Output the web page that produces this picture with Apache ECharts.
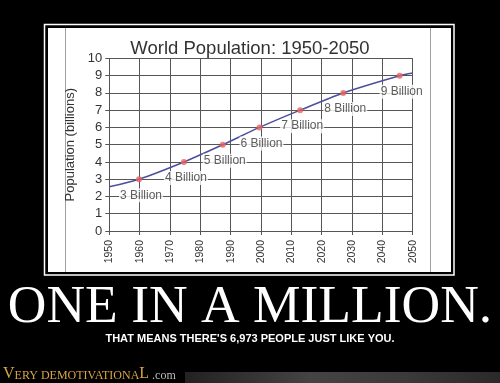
<!DOCTYPE html>
<html>
<head>
<meta charset="utf-8">
<script src="https://cdn.jsdelivr.net/npm/echarts@6/dist/echarts.min.js"></script>
<style>html,body{margin:0;padding:0;background:#000;}#c{width:500px;height:383px;}</style>
</head>
<body>
<div id="c"></div>
<script>
// Data
const lineYears = [1950, 1959.8, 1974.6, 1987.4, 1999.5, 2012.9, 2027.1, 2045.7, 2050];
const linePop   = [2.56, 3, 4, 5, 6, 7, 8, 9, 9.15];
const milestoneYears = [1959.8, 1974.6, 1987.4, 1999.5, 2012.9, 2027.1, 2045.7];
const milestones     = [3, 4, 5, 6, 7, 8, 9];
const xTicks = [1950, 1960, 1970, 1980, 1990, 2000, 2010, 2020, 2030, 2040, 2050];
const yTicks = [0, 1, 2, 3, 4, 5, 6, 7, 8, 9, 10];
const titleText = 'World Population: 1950-2050';
const yAxisName = 'Population (billions)';
const headline = 'ONE IN A MILLION.';
const subline = "THAT MEANS THERE'S 6,973 PEOPLE JUST LIKE YOU.";

const chart = echarts.init(document.getElementById('c'), null, {renderer: 'canvas'});
const font = '"Liberation Sans", Arial, sans-serif';
chart.setOption({
  backgroundColor: '#000',
  animation: false,
  graphic: [
    {type: 'rect', z: -10, shape: {x: 44.5, y: 24.5, width: 409.5, height: 250.5}, style: {fill: 'none', stroke: '#fff', lineWidth: 1.5}},
    {type: 'rect', z: -10, shape: {x: 48, y: 28, width: 403, height: 244}, style: {fill: '#fff'}},
    {type: 'line', z: -9, shape: {x1: 65.5, y1: 28, x2: 65.5, y2: 272}, style: {stroke: '#a0a0a0', lineWidth: 1}},
    {type: 'line', z: -9, shape: {x1: 430.5, y1: 28, x2: 430.5, y2: 272}, style: {stroke: '#a0a0a0', lineWidth: 1}},
    {type: 'text', left: 'center', top: 281, style: {text: headline, fill: '#fff', font: '53.5px "Liberation Serif", "Times New Roman", serif'}},
    {type: 'text', left: 'center', top: 333, style: {text: subline, fill: '#fff', font: 'bold 11px "Liberation Sans", Arial, sans-serif'}},
    {type: 'rect', z: -5, shape: {x: 185, y: 372, width: 315, height: 11},
      style: {fill: new echarts.graphic.LinearGradient(0, 0, 1, 0, [
        {offset: 0, color: '#222'}, {offset: 0.4, color: '#444'}, {offset: 0.7, color: '#3a3a3a'}, {offset: 1, color: '#2a2a2a'}])}},
    {type: 'text', left: 3, top: 366, style: {
      text: '{b|V}{a|ERY DEMOTIVATIONA}{b|L}{c| .com}',
      rich: {
        a: {fill: '#d8a444', font: '12px "Liberation Serif", serif', verticalAlign: 'bottom'},
        b: {fill: '#d8a444', font: '16px "Liberation Serif", serif', verticalAlign: 'bottom'},
        c: {fill: '#bbb', font: '12px "Liberation Serif", serif', verticalAlign: 'bottom'}
      }
    }}
  ],
  title: {
    text: titleText, left: 'center', top: 34,
    textStyle: {color: '#333', fontFamily: font, fontWeight: 'normal', fontSize: 18.5}
  },
  grid: {left: 109.3, top: 58.4, width: 303.4, height: 172.6},
  xAxis: {
    type: 'value', min: xTicks[0], max: xTicks[xTicks.length - 1], interval: 10,
    axisLine: {show: true, lineStyle: {color: '#555', width: 1}},
    axisTick: {show: true, length: 4, lineStyle: {color: '#555'}},
    axisLabel: {rotate: 90, color: '#333', fontFamily: font, fontSize: 10.5, margin: 9,
      formatter: v => xTicks.includes(v) ? String(v) : ''},
    splitLine: {show: true, lineStyle: {color: '#565656', width: 1}}
  },
  yAxis: {
    type: 'value', min: yTicks[0], max: yTicks[yTicks.length - 1], interval: 1,
    name: yAxisName, nameLocation: 'middle', nameGap: 23, nameRotate: 90,
    nameTextStyle: {color: '#333', fontFamily: font, fontSize: 13},
    axisLine: {show: true, lineStyle: {color: '#555', width: 1}},
    axisTick: {show: true, length: 4, lineStyle: {color: '#555'}},
    axisLabel: {color: '#333', fontFamily: font, fontSize: 13, margin: 7},
    splitLine: {show: true, lineStyle: {color: '#565656', width: 1}}
  },
  series: [
    {
      type: 'line', smooth: 0.3, showSymbol: false, silent: true,
      data: lineYears.map((y, i) => [y, linePop[i]]),
      lineStyle: {color: '#4a4f9e', width: 1.5}
    },
    {
      type: 'scatter', symbol: 'circle', symbolSize: 6, z: 5,
      data: milestoneYears.map((y, i) => [y, milestones[i]]),
      itemStyle: {color: '#e8625c'},
      label: {
        show: true, position: 'bottom', distance: 6, offset: [2, 0],
        formatter: p => p.value[1] + ' Billion',
        color: '#333', fontFamily: font, fontSize: 12, lineHeight: 14,
        backgroundColor: '#fff', padding: [0, 1]
      }
    }
  ]
});
</script>
</body>
</html>
